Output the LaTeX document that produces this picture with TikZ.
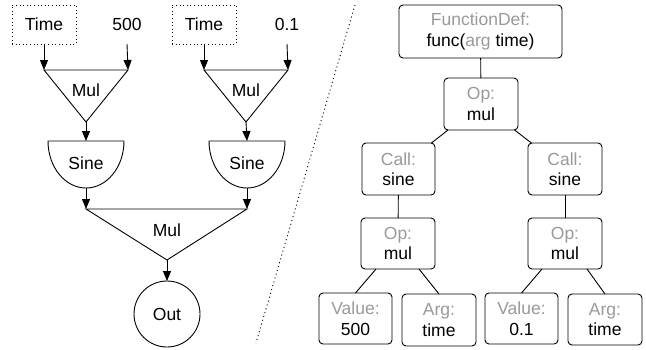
\documentclass[tikz,border=0pt]{standalone}
\usepackage{fontspec}
\setmainfont{Liberation Sans}
\usetikzlibrary{arrows.meta}
\definecolor{lbl}{RGB}{153,153,153}
\begin{document}
\begin{tikzpicture}[x=1pt,y=-1pt,
  every node/.style={font=\fontsize{17.5}{20.5}\selectfont, inner sep=0pt, outer sep=0pt},
  ln/.style={line width=0.9pt},
  arr/.style={ln,-{Triangle[length=10pt,width=8pt]}},
  tbox/.style={draw, ln, rounded corners=4pt, align=center, minimum width=74pt, minimum height=52pt},
  dotbox/.style={draw, line width=0.9pt, dash pattern=on 1pt off 2.6pt, minimum width=64pt, minimum height=39pt},
  plain/.style={minimum height=39pt},
  gate/.style={draw, ln, line join=miter}
]
\useasboundingbox (0,0) rectangle (646,349);

% ---------- left: node graph ----------
\node[dotbox] (time1) at (44,24.5) {Time};
\node[plain] (v500) at (127,24.5) {500};
\node[dotbox] (time2) at (204,24.5) {Time};
\node[plain] (v01) at (287,24.5) {0.1};

% Mul triangles
\coordinate (m1a) at (44,70);  \coordinate (m1b) at (128,70);  \coordinate (m1c) at (86,122);
\coordinate (m2a) at (204,70); \coordinate (m2b) at (288,70);  \coordinate (m2c) at (246,122);
\coordinate (m3a) at (86,209); \coordinate (m3b) at (247,209); \coordinate (m3c) at (167,260);
\draw[gate] (m1a) -- (m1b) -- (m1c) -- cycle;
\draw[gate] (m2a) -- (m2b) -- (m2c) -- cycle;
\draw[gate] (m3a) -- (m3b) -- (m3c) -- cycle;
\node (mul1) at (86,90) {Mul};
\node (mul2) at (246,90) {Mul};
\node (mul3) at (167,230) {Mul};

% Sine shapes
\coordinate (s1t) at (86,141); \coordinate (s1b) at (86,188);
\coordinate (s2t) at (247,141); \coordinate (s2b) at (247,188);
\draw[gate] (48,141) -- (124,141) arc[start angle=0, end angle=-180, x radius=38, y radius=-47] -- cycle;
\draw[gate] (209,141) -- (285,141) arc[start angle=0, end angle=-180, x radius=38, y radius=-47] -- cycle;
\node (sine1) at (86,163) {Sine};
\node (sine2) at (247,163) {Sine};

\node[draw, ln, circle, minimum size=66pt] (out) at (167,314) {Out};

\draw[arr] (time1.south) -- (m1a);
\draw[arr] (v500.south) -- (m1b);
\draw[arr] (time2.south) -- (m2a);
\draw[arr] (v01.south) -- (m2b);
\draw[arr] (m1c) -- (s1t);
\draw[arr] (m2c) -- (s2t);
\draw[arr] (s1b) -- (m3a);
\draw[arr] (s2b) -- (m3b);
\draw[arr] (m3c) -- (out.north);

% separator
\coordinate (sepA) at (355,5);
\coordinate (sepB) at (256,343);
\draw[line width=0.9pt, dash pattern=on 1pt off 3pt] (sepA) -- (sepB);

% ---------- right: AST ----------
\node[tbox, minimum width=163pt, minimum height=53pt] (fd) at (480.5,31.5)
  {\textcolor{lbl}{FunctionDef:}\\func(\textcolor{lbl}{arg} time)};
\node[tbox] (op1) at (481,104) {\textcolor{lbl}{Op:}\\mul};
\node[tbox, minimum width=73pt] (callL) at (398.5,169) {\textcolor{lbl}{Call:}\\sine};
\node[tbox] (callR) at (565,169) {\textcolor{lbl}{Call:}\\sine};
\node[tbox, minimum height=51pt] (opL) at (398,243.5) {\textcolor{lbl}{Op:}\\mul};
\node[tbox, minimum height=51pt] (opR) at (565,243.5) {\textcolor{lbl}{Op:}\\mul};
\node[tbox, minimum width=73pt, minimum height=51pt] (valL) at (355.5,318.5) {\textcolor{lbl}{Value:}\\500};
\node[tbox] (argL) at (439,320) {\textcolor{lbl}{Arg:}\\time};
\node[tbox, minimum width=73pt, minimum height=51pt] (valR) at (521.5,318.5) {\textcolor{lbl}{Value:}\\0.1};
\node[tbox, minimum height=51pt] (argR) at (605,319.5) {\textcolor{lbl}{Arg:}\\time};

\draw[ln] (fd) -- (op1);
\draw[ln] (op1) -- (callL);
\draw[ln] (op1) -- (callR);
\draw[ln] (callL) -- (opL);
\draw[ln] (callR) -- (opR);
\draw[ln] ([xshift=15pt]opL.south west) -- (valL.north);
\draw[ln] ([xshift=-16pt]opL.south east) -- (argL.north);
\draw[ln] ([xshift=14pt]opR.south west) -- (valR.north);
\draw[ln] ([xshift=-15pt]opR.south east) -- (argR.north);
\end{tikzpicture}
\end{document}
